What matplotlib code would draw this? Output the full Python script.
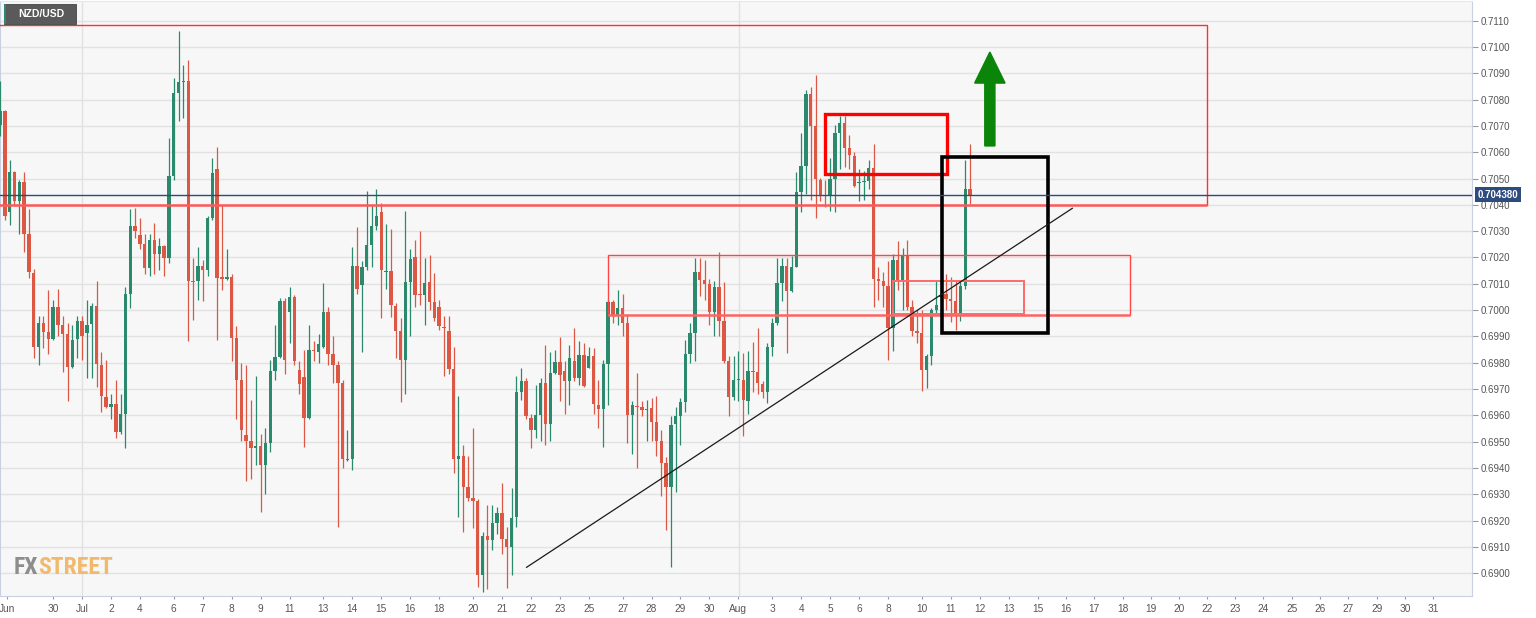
import numpy as np
import matplotlib
matplotlib.use("Agg")
import matplotlib.pyplot as plt
from matplotlib.patches import Rectangle
from matplotlib.ticker import FormatStrFormatter

plt.rcParams['font.family'] = ['Liberation Sans', 'DejaVu Sans']

# NZD/USD 4H candles, late June -> 12 Aug (one entry per bar)
opens = [
    .70703, .70758, .70372, .70524, .70413, .70486, .70289, .70141, .69861, .69950,
    .69916, .69891, .70013, .69944, .69909, .69785, .69891, .69960, .69913, .69946,
    .70017, .69792, .69670, .69633, .69642, .69536, .69605, .70061, .70321, .70286,
    .70252, .70160, .70268, .70213, .70243, .70199, .70510, .70827, .70866, .70869,
    .70109, .70109, .70167, .70153, .70351, .70537, .70123, .70120, .70127, .69895,
    .69736, .69525, .69502, .69474, .69485, .69412, .69495, .69767, .69822, .70033,
    .69992, .70051, .69771, .69747, .69591, .69847, .69840, .69861, .69992, .69833,
    .69792, .69723, .69430, .69433, .70169, .70095, .70164, .70247, .70319, .70374,
    .70144, .70148, .70015, .69920, .69812, .70107, .70203, .70061, .70058, .70105,
    .70030, .70013, .69937, .69920, .69775, .69433, .69446, .69326, .69285, .69274,
    .68991, .69143, .69126, .69191, .69230, .69129, .69101, .69212, .69688, .69732,
    .69591, .69543, .69601, .69723, .69567, .69760, .69803, .69767, .69729, .69805,
    .69743, .69830, .69781, .69826, .69640, .69623, .69794, .70030, .69982, .70006,
    .69950, .69602, .69637, .69633, .69619, .69626, .69573, .69502, .69419, .69329,
    .69567, .69598, .69649, .69833, .69913, .70144, .70116, .70100, .69992, .70089,
    .69960, .69808, .69670, .69734, .69736, .69653, .69767, .69764, .69718, .69688,
    .69861, .69950, .70102, .70169, .70071, .70164, .70448, .70548, .70820, .70699,
    .70496, .70438, .70434, .70500, .70675, .70710, .70617, .70586, .70482, .70486,
    .70489, .70542, .70120, .70109, .70093, .69932, .70192, .70112, .70209, .70010,
    .69919, .69913, .69771, .69826, .69999, .70051, .70061, .70043, .70033, .69982,
    .70093, .70459,
]
highs = [
    .70869, .70761, .70572, .70530, .70496, .70524, .70386, .70158, .69978, .69978,
    .70075, .70040, .70082, .69978, .69950, .69944, .69978, .69978, .70040, .70026,
    .70112, .69840, .69812, .69681, .69736, .69681, .70089, .70386, .70388, .70351,
    .70289, .70289, .70330, .70275, .70247, .70655, .70883, .71062, .70931, .70952,
    .70199, .70240, .70192, .70358, .70579, .70620, .70399, .70234, .70137, .69939,
    .69799, .69792, .69660, .69750, .69529, .69550, .69812, .69944, .70047, .70047,
    .70089, .70058, .69805, .69847, .69944, .69881, .69909, .70102, .70013, .69902,
    .69805, .69736, .69543, .70240, .70314, .70185, .70452, .70399, .70461, .70406,
    .70328, .70310, .70026, .69968, .70376, .70231, .70268, .70300, .70199, .70210,
    .70140, .70040, .69978, .69978, .69861, .69674, .69488, .69446, .69550, .69281,
    .69156, .69260, .69260, .69253, .69343, .69177, .69322, .69750, .69781, .69743,
    .69605, .69716, .69743, .69868, .69840, .69847, .69899, .69805, .69868, .69930,
    .69881, .69874, .69861, .69854, .69736, .69812, .70037, .70040, .70075, .70061,
    .69985, .69653, .69761, .69653, .69660, .69667, .69674, .69543, .69440, .69598,
    .69633, .69667, .69888, .69950, .70199, .70199, .70192, .70120, .70109, .70222,
    .70107, .69826, .69826, .69844, .69836, .69844, .69877, .69932, .69729, .69874,
    .69971, .70199, .70199, .70199, .70206, .70524, .70673, .70838, .70848, .70894,
    .70503, .70496, .70579, .70703, .70738, .70738, .70664, .70600, .70535, .70530,
    .70572, .70631, .70164, .70144, .70185, .70213, .70261, .70236, .70268, .70040,
    .69999, .69999, .69833, .70006, .70112, .70109, .70137, .70126, .70109, .70112,
    .70572, .70631,
]
lows = [
    .70662, .70344, .70323, .70399, .70289, .70220, .70123, .69819, .69792, .69854,
    .69833, .69888, .69902, .69764, .69653, .69778, .69819, .69812, .69743, .69743,
    .69709, .69612, .69626, .69584, .69515, .69529, .69474, .70006, .70275, .70234,
    .70137, .70130, .70137, .70151, .70130, .70178, .70496, .70717, .70731, .69881,
    .69964, .70040, .70033, .70130, .70344, .69888, .70075, .70116, .69805, .69584,
    .69502, .69350, .69357, .69412, .69232, .69301, .69460, .69736, .69819, .69757,
    .69874, .69792, .69681, .69481, .69584, .69805, .69799, .69854, .69792, .69723,
    .69177, .69398, .69426, .69391, .70061, .69840, .70151, .70164, .70303, .69971,
    .70082, .69974, .69819, .69651, .69681, .69902, .70013, .70020, .69944, .69999,
    .69957, .69923, .69750, .69757, .69380, .69212, .69156, .69274, .69170, .68949,
    .68928, .68938, .69087, .69149, .69074, .68942, .68991, .69177, .69660, .69584,
    .69474, .69515, .69502, .69488, .69502, .69757, .69653, .69605, .69640, .69729,
    .69716, .69709, .69778, .69605, .69550, .69481, .69640, .69950, .69944, .69902,
    .69495, .69453, .69398, .69598, .69502, .69502, .69446, .69295, .69163, .69025,
    .69308, .69488, .69612, .69799, .69805, .70054, .70040, .69944, .69902, .69902,
    .69799, .69598, .69660, .69653, .69522, .69605, .69688, .69681, .69667, .69647,
    .69826, .69944, .70033, .69836, .70068, .70164, .70372, .70441, .70420, .70351,
    .70413, .70392, .70376, .70372, .70537, .70544, .70537, .70468, .70413, .70420,
    .70461, .70013, .70040, .70013, .69812, .69844, .70075, .69999, .70002, .69902,
    .69874, .69692, .69702, .69792, .69985, .70040, .69999, .69955, .69923, .69957,
    .70082, .70402,
]
closes = [
    .70758, .70358, .70524, .70413, .70486, .70289, .70144, .69861, .69950, .69916,
    .69891, .70013, .69944, .69909, .69785, .69888, .69957, .69902, .69944, .70017,
    .69794, .69674, .69633, .69642, .69536, .69605, .70061, .70321, .70300, .70252,
    .70160, .70268, .70213, .70243, .70199, .70510, .70827, .70866, .70869, .70109,
    .70107, .70167, .70153, .70351, .70521, .70123, .70120, .70127, .69895, .69736,
    .69543, .69502, .69474, .69485, .69412, .69495, .69767, .69822, .70033, .69812,
    .70051, .69805, .69718, .69591, .69847, .69844, .69870, .69992, .69833, .69792,
    .69723, .69433, .69433, .70169, .70082, .70164, .70247, .70319, .70358, .70153,
    .70148, .70020, .69920, .69812, .70107, .70196, .70058, .70058, .70102, .70030,
    .69968, .69941, .69932, .69775, .69433, .69446, .69326, .69285, .69274, .68991,
    .69143, .69126, .69191, .69230, .69129, .69101, .69209, .69688, .69732, .69596,
    .69543, .69601, .69723, .69567, .69760, .69803, .69753, .69729, .69819, .69743,
    .69830, .69713, .69826, .69642, .69623, .69794, .70030, .69982, .70006, .69950,
    .69602, .69640, .69633, .69619, .69623, .69573, .69502, .69419, .69329, .69564,
    .69598, .69649, .69833, .69913, .70144, .70116, .70100, .69992, .70089, .69960,
    .69808, .69670, .69736, .69736, .69660, .69767, .69764, .69723, .69688, .69861,
    .69950, .70102, .70169, .70071, .70164, .70448, .70548, .70820, .70699, .70500,
    .70438, .70434, .70500, .70675, .70710, .70617, .70590, .70471, .70486, .70489,
    .70542, .70120, .70112, .70093, .69930, .70192, .70112, .70209, .70010, .69919,
    .69913, .69771, .69826, .69999, .70020, .70057, .70043, .70033, .69982, .70093,
    .70459, .70438,
]

# date labels along the bar axis
tick_labels = ['Jun', '30', 'Jul', '2', '4', '6', '7', '8', '9', '11',
               '13', '14', '15', '16', '18', '20', '21', '22', '23', '25',
               '27', '28', '29', '30', 'Aug', '3', '4', '5', '6', '8',
               '10', '11', '12', '13', '15', '16', '17', '18', '19', '20',
               '22', '23', '24', '25', '26', '27', '29', '30', '31']
tick_bars = [1.5, 11, 17, 23, 29, 36, 42, 48, 54, 60,
             67, 73, 79, 85, 91, 98, 104, 110, 116, 122,
             129, 135, 141, 147, 153, 160, 166, 172, 178, 184,
             191, 197, 203, 209, 215, 220.9, 226.7, 232.7, 238.5, 244.3,
             250.1, 255.9, 261.7, 267.7, 273.5, 279.3, 285.3, 291.1, 296.9]
month_bars = [17.05, 153.1]

# drawn zones: (bar from, bar to, price low, price high)
resistance_zone = (-2, 250.1, 0.70400, 0.71084)
support_zone = (126.0, 234.2, 0.69980, 0.70209)
retest_zone = (185.0, 212.2, 0.69985, 0.70111)
top_box = (170.9, 196.2, 0.70517, 0.70745)
breakout_box = (195.1, 217.2, 0.69911, 0.70583)
trend_bars = [109.1, 222.2]
trend_prices = [0.69022, 0.70387]
arrow_bar = 205.1
arrow_prices = [0.70624, 0.70981]
last_price = 0.70438

GREEN = '#2b8a6e'
RED = '#dc5845'

W, H = 1536, 618
fig = plt.figure(figsize=(W / 100, H / 100), dpi=100)
ax = fig.add_axes([0, 22 / H, 1472 / W, 595 / H])
ax.set_facecolor('#f7f7f7')

o = np.array(opens)
h = np.array(highs)
l = np.array(lows)
c = np.array(closes)
x = np.arange(len(o))
cols = np.where(c >= o, GREEN, RED)

ax.vlines(x, l, h, colors=cols, lw=0.9, zorder=3)
ax.bar(x, np.maximum(np.abs(c - o), 0.00004), bottom=np.minimum(o, c),
       width=0.7, color=cols, linewidth=0, zorder=4)

# zones
def box(z, ec, lw, alpha=1.0):
    ax.add_patch(Rectangle((z[0], z[2]), z[1] - z[0], z[3] - z[2], fill=False,
                           ec=ec, lw=lw, alpha=alpha, zorder=5))

box(resistance_zone, '#ff3030', 1.0)
ax.hlines(resistance_zone[2], resistance_zone[0], resistance_zone[1],
          color='#ff6060', lw=2.0, alpha=0.8, zorder=5)
box(support_zone, '#ff4545', 1.0)
ax.hlines(support_zone[2], support_zone[0], support_zone[1],
          color='#ff6a6a', lw=2.0, alpha=0.8, zorder=5)
box(retest_zone, '#ff6a6a', 1.4)
box(top_box, '#ff0000', 2.4)
box(breakout_box, '#000000', 2.6)

ax.plot(trend_bars, trend_prices, color='#1a1a1a', lw=0.9, zorder=6)

ax.arrow(arrow_bar, arrow_prices[0], 0, arrow_prices[1] - arrow_prices[0],
         width=2.1, head_width=6.3, head_length=0.00118,
         length_includes_head=True, color='#0a850a', zorder=7)

ax.axhline(last_price, color='#2d4b7c', lw=1.0, zorder=6)
ax.text(1.0037, last_price, '0.704380', transform=ax.get_yaxis_transform(),
        ha='left', va='center', fontsize=7, fontweight='bold', color='white',
        bbox=dict(boxstyle='square,pad=0.25', fc='#2d4b7c', ec='none'),
        zorder=10, clip_on=False)

for mb in month_bars:
    ax.axvline(mb, color='#e2e2e2', lw=1.0, zorder=0.5)

ax.set_xlim(0, 305)
ax.set_ylim(0.68913, 0.71175)
ax.set_xticks(tick_bars)
ax.set_xticklabels(tick_labels)
ax.yaxis.tick_right()
ax.set_yticks(np.arange(0.6900, 0.71101, 0.001))
ax.yaxis.set_major_formatter(FormatStrFormatter('%.4f'))
ax.grid(axis='y', color='#e2e2e2', lw=1.0)
ax.set_axisbelow(True)
ax.tick_params(axis='y', length=4, width=0.8, color='#9a9a9a',
               labelsize=7, labelcolor='#555555', pad=2)
ax.tick_params(axis='x', length=2, width=0.8, color='#9a9a9a',
               labelsize=7.3, labelcolor='#555555', pad=4)
for side in ['left', 'right', 'bottom']:
    ax.spines[side].set_color('#c8d1e1')
ax.spines['top'].set_color('#e4e8ef')

# watermark
logo_font = ['Liberation Sans Narrow', 'Roboto Condensed', 'DejaVu Sans']
t1 = ax.text(0.0095, 0.028, 'FX', transform=ax.transAxes, fontsize=17,
             fontweight='bold', fontstretch='condensed', color='#8d8d8d',
             family=logo_font, va='bottom', ha='left', zorder=2)
ax.annotate('STREET', xy=(1, 0), xycoords=t1, va='bottom', ha='left',
            fontsize=17, fontweight='bold', fontstretch='condensed',
            color='#f2b96c', family=logo_font, zorder=2)

# symbol tag
fig.add_artist(Rectangle((4 / W, 1 - 24 / H), 72 / W, 20 / H,
                         transform=fig.transFigure, fc='#5a5a5a', ec='#444444',
                         lw=0.6, zorder=20))
fig.add_artist(Rectangle((4 / W, 1 - 24 / H), 2 / W, 20 / H,
                         transform=fig.transFigure, fc=GREEN, ec='none', zorder=21))
fig.text(41 / W, 1 - 14 / H, 'NZD/USD', ha='center', va='center', fontsize=7.5,
         fontweight='bold', color='white', zorder=22)

fig.savefig('out.png', dpi=100)
